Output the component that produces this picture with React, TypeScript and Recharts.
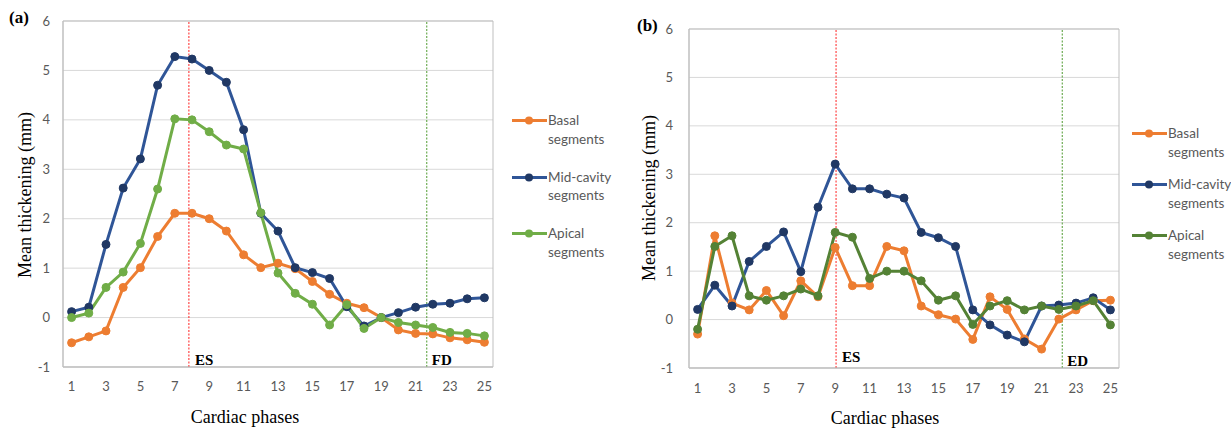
import { LineChart, Line, XAxis, YAxis, CartesianGrid, ReferenceLine, ReferenceArea, Legend } from 'recharts';

const phases = [1, 2, 3, 4, 5, 6, 7, 8, 9, 10, 11, 12, 13, 14, 15, 16, 17, 18, 19, 20, 21, 22, 23, 24, 25];
const phaseTicks = [1, 3, 5, 7, 9, 11, 13, 15, 17, 19, 21, 23, 25];
const thickTicks = [-1, 0, 1, 2, 3, 4, 5, 6];
const seriesOrder = ['Basal segments', 'Mid-cavity segments', 'Apical segments'];

// panel (a)
const basalA = [-0.51, -0.39, -0.27, 0.61, 1.01, 1.64, 2.11, 2.11, 2.0, 1.75, 1.27, 1.01, 1.1, 0.99, 0.73, 0.47, 0.29, 0.2, 0.0, -0.25, -0.32, -0.33, -0.41, -0.45, -0.5];
const midA = [0.12, 0.21, 1.48, 2.62, 3.21, 4.7, 5.28, 5.23, 5.0, 4.76, 3.8, 2.11, 1.75, 1.01, 0.91, 0.79, 0.22, -0.17, 0.0, 0.1, 0.21, 0.27, 0.29, 0.38, 0.4];
const apicalA = [0.0, 0.09, 0.61, 0.92, 1.5, 2.6, 4.02, 4.0, 3.76, 3.49, 3.41, 2.12, 0.9, 0.49, 0.27, -0.15, 0.26, -0.22, 0.0, -0.1, -0.15, -0.2, -0.3, -0.32, -0.37];

// panel (b)
const basalB = [-0.3, 1.73, 0.34, 0.2, 0.6, 0.08, 0.8, 0.47, 1.49, 0.7, 0.7, 1.51, 1.42, 0.28, 0.1, 0.01, -0.41, 0.47, 0.21, -0.4, -0.61, 0.01, 0.2, 0.39, 0.4];
const midB = [0.21, 0.71, 0.28, 1.2, 1.51, 1.81, 0.99, 2.32, 3.21, 2.7, 2.7, 2.59, 2.51, 1.8, 1.69, 1.51, 0.2, -0.11, -0.32, -0.46, 0.28, 0.3, 0.34, 0.45, 0.2];
const apicalB = [-0.2, 1.51, 1.73, 0.49, 0.4, 0.49, 0.63, 0.49, 1.8, 1.7, 0.85, 1.0, 1.0, 0.8, 0.4, 0.49, -0.1, 0.28, 0.39, 0.2, 0.28, 0.21, 0.28, 0.39, -0.11];

const tickFont = { fill: '#595959', fontSize: 13, fontFamily: 'Lato, sans-serif' };
const serif = '"Liberation Serif", "Times New Roman", serif';
const midDot = '#203864';

const EventLabel = ({ viewBox, text, dx = 6, dy = -2 }: any) => (
  <text x={viewBox.x + dx} y={viewBox.y + viewBox.height + dy} fontFamily={serif} fontWeight="bold" fontSize={15} fill="#000">
    {text}
  </text>
);

const XTitle = ({ pos }: any) => (
  <text x={pos[0]} y={pos[1]} textAnchor="middle" fontFamily={serif} fontSize={18} fill="#000">
    Cardiac phases
  </text>
);

const YTitle = ({ pos }: any) => (
  <text
    x={pos[0]}
    y={pos[1]}
    textAnchor="middle"
    dominantBaseline="central"
    transform={`rotate(-90 ${pos[0]} ${pos[1]})`}
    fontFamily={serif}
    fontSize={18}
    fill="#000"
  >
    Mean thickening (mm)
  </text>
);

const SideLegend = ({ payload, gap }: any) => {
  const items = [...(payload || [])].sort((a: any, b: any) => seriesOrder.indexOf(a.value) - seriesOrder.indexOf(b.value));
  return (
    <div style={{ fontFamily: 'Lato, sans-serif', fontSize: 13.5, color: '#595959', lineHeight: '18.5px' }}>
      {items.map((p: any) => {
        const [first, ...rest] = p.value.split(' ');
        const dotFill = p.value.startsWith('Mid') ? midDot : p.color;
        return (
          <div key={p.value} style={{ display: 'flex', alignItems: 'flex-start', marginBottom: gap }}>
            <svg width={36} height={18} style={{ flexShrink: 0 }}>
              <line x1={0} y1={9.5} x2={35} y2={9.5} stroke={p.color} strokeWidth={3} />
              <circle cx={17} cy={9.5} r={4} fill={dotFill} />
            </svg>
            <div>
              <div>{first}</div>
              <div>{rest.join(' ')}</div>
            </div>
          </div>
        );
      })}
    </div>
  );
};

function Panel({ cfg }: any) {
  const data = phases.map((ph, i) => ({ phase: ph, basal: cfg.basal[i], mid: cfg.mid[i], apical: cfg.apical[i] }));
  return (
    <div style={{ position: 'absolute', left: cfg.left, top: 0, width: cfg.width, height: 428 }}>
      <LineChart width={cfg.width} height={428} data={data} margin={{ top: cfg.top, right: cfg.right, left: 0, bottom: 0 }}>
        <CartesianGrid vertical={false} stroke="#d9d9d9" strokeWidth={1} />
        <ReferenceArea x1={0.5} x2={25.5} y1={-1} y2={6} fill="none" stroke="#bfbfbf" strokeWidth={1} />
        <XAxis
          type="number"
          dataKey="phase"
          domain={[0.5, 25.5]}
          ticks={phaseTicks}
          interval={0}
          height={cfg.xh}
          tickLine={false}
          tickSize={0}
          tickMargin={cfg.xTickMargin}
          axisLine={{ stroke: '#bfbfbf' }}
          tick={tickFont}
          label={<XTitle pos={cfg.xTitle} />}
        />
        <YAxis
          type="number"
          domain={[-1, 6]}
          ticks={thickTicks}
          width={cfg.yw}
          tickLine={false}
          tickSize={0}
          tickMargin={cfg.yTickMargin}
          axisLine={{ stroke: '#bfbfbf' }}
          tick={tickFont}
          label={<YTitle pos={cfg.yTitle} />}
        />
        <ReferenceLine x={cfg.es} stroke="#ff2020" strokeDasharray="2 1.5" strokeWidth={1} label={<EventLabel text="ES" dy={cfg.esDy} />} />
        <ReferenceLine x={cfg.ed} stroke={cfg.edColor} strokeDasharray="2 1.5" strokeWidth={1} label={<EventLabel text={cfg.edText} dx={5} dy={-2} />} />
        <Legend
          layout="vertical"
          align="center"
          verticalAlign="middle"
          wrapperStyle={{ left: cfg.legend[0], top: cfg.legend[1], width: 115 }}
          content={(props: any) => <SideLegend {...props} gap={cfg.legendGap} />}
        />
        <Line dataKey="basal" name="Basal segments" stroke="#ed7d31" strokeWidth={3} dot={{ r: 4, fill: '#ed7d31', stroke: '#ed7d31', strokeWidth: 1 }} isAnimationActive={false} />
        <Line dataKey="mid" name="Mid-cavity segments" stroke="#2f5597" strokeWidth={3} dot={{ r: 4, fill: midDot, stroke: midDot, strokeWidth: 1 }} isAnimationActive={false} />
        <Line dataKey="apical" name="Apical segments" stroke={cfg.green} strokeWidth={3} dot={{ r: 4, fill: cfg.green, stroke: cfg.green, strokeWidth: 1 }} isAnimationActive={false} />
      </LineChart>
      <div style={{ position: 'absolute', left: cfg.tag[0], top: cfg.tag[1], fontFamily: serif, fontWeight: 'bold', fontSize: 17, color: '#000' }}>
        {cfg.tagText}
      </div>
    </div>
  );
}

const panelA = {
  left: 0, width: 620, top: 21, right: 127, xh: 61, yw: 63,
  xTickMargin: 15, yTickMargin: 13,
  basal: basalA, mid: midA, apical: apicalA, green: '#70ad47',
  es: 7.82, ed: 21.65, edText: 'FD', edColor: '#4e9a2f', esDy: -2,
  xTitle: [245, 423], yTitle: [25, 195],
  legend: [512, 111], legendGap: 19.5,
  tag: [9, 8], tagText: '(a)',
};

const panelB = {
  left: 620, width: 611, top: 29, right: 112, xh: 60, yw: 69,
  xTickMargin: 16, yTickMargin: 16,
  basal: basalB, mid: midB, apical: apicalB, green: '#548235',
  es: 9.05, ed: 22.2, edText: 'ED', edColor: '#4e9a2f', esDy: -6,
  xTitle: [265, 424], yTitle: [29, 198],
  legend: [512, 124], legendGap: 14,
  tag: [17, 16], tagText: '(b)',
};

export default function App() {
  return (
    <div style={{ position: 'absolute', left: 0, top: 0, width: 1231, height: 428, background: '#fff', overflow: 'hidden' }}>
      <Panel cfg={panelA} />
      <Panel cfg={panelB} />
    </div>
  );
}
